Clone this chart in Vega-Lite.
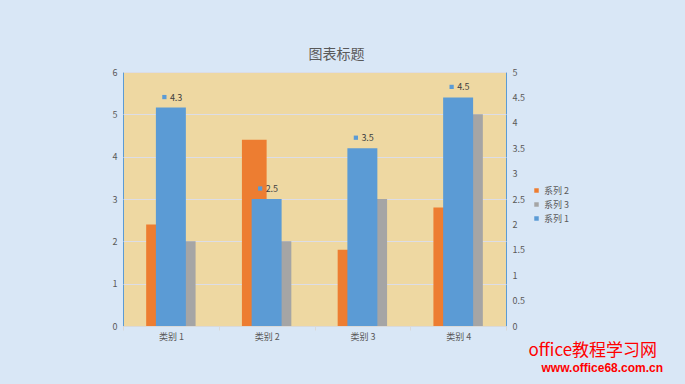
{
  "$schema": "https://vega.github.io/schema/vega-lite/v6.json",
  "autosize": {"type": "none"},
  "width": 383,
  "height": 254,
  "padding": {"left": 123, "top": 72, "right": 179, "bottom": 58},
  "background": "#d9e7f6",
  "title": {
    "text": "图表标题",
    "font": "Noto Sans CJK SC",
    "fontSize": 14,
    "fontWeight": "normal",
    "color": "#595959",
    "anchor": "middle",
    "frame": "group",
    "dx": 22,
    "offset": 6
  },
  "config": {
    "view": {"fill": "#eed8a2", "stroke": "#5b9bd5", "strokeWidth": 1},
    "font": "Noto Sans CJK SC",
    "axis": {"labelFont": "Noto Sans CJK SC", "labelFontSize": 9, "labelColor": "#595959"},
    "legend": {"labelFont": "Noto Sans CJK SC"}
  },
  "data": {
    "values": [
      {"cat": "类别 1", "series": "系列 2", "value": 2.4},
      {"cat": "类别 2", "series": "系列 2", "value": 4.4},
      {"cat": "类别 3", "series": "系列 2", "value": 1.8},
      {"cat": "类别 4", "series": "系列 2", "value": 2.8},
      {"cat": "类别 1", "series": "系列 3", "value": 2},
      {"cat": "类别 2", "series": "系列 3", "value": 2},
      {"cat": "类别 3", "series": "系列 3", "value": 3},
      {"cat": "类别 4", "series": "系列 3", "value": 5},
      {"cat": "类别 1", "series": "系列 1", "value": 4.3},
      {"cat": "类别 2", "series": "系列 1", "value": 2.5},
      {"cat": "类别 3", "series": "系列 1", "value": 3.5},
      {"cat": "类别 4", "series": "系列 1", "value": 4.5}
    ]
  },
  "layer": [
    {
      "transform": [{"filter": "datum.series !== '系列 1'"}],
      "mark": {"type": "bar"},
      "encoding": {
        "x": {
          "field": "cat", "type": "nominal",
          "scale": {"paddingInner": 0, "paddingOuter": 0},
          "axis": {
            "labelAngle": 0, "domainColor": "#d9d9d9", "tickColor": "#d9d9d9",
            "tickBand": "extent", "tickSize": 4, "labelPadding": 2,
            "title": "office教程学习网", "titleColor": "#ff0000", "titleFontSize": 17,
            "titleFontWeight": "normal", "titleFont": "Noto Sans CJK SC",
            "titleAlign": "left", "titleBaseline": "alphabetic",
            "titleX": 405, "titleY": 29
          }
        },
        "xOffset": {
          "field": "series", "type": "nominal",
          "scale": {"domain": ["系列 2", "系列 3"], "paddingInner": 0, "paddingOuter": 0.938}
        },
        "y": {
          "field": "value", "type": "quantitative",
          "scale": {"domain": [0, 6], "nice": false},
          "axis": {
            "values": [0, 1, 2, 3, 4, 5, 6], "domain": false, "ticks": false,
            "labelPadding": 6, "gridColor": "#dcdde6", "gridWidth": 1,
            "title": "www.office68.com.cn", "titleColor": "#ff0000", "titleFontSize": 12,
            "titleFontWeight": "bold", "titleFont": "Liberation Sans", "titleAngle": 0,
            "titleAlign": "left", "titleBaseline": "alphabetic",
            "titleX": 418, "titleY": 299
          }
        },
        "color": {
          "field": "series", "type": "nominal",
          "scale": {"domain": ["系列 2", "系列 3", "系列 1"], "range": ["#ed7d31", "#a5a5a5", "#5b9bd5"]},
          "legend": {
            "title": null, "orient": "none", "legendX": 409, "legendY": 114,
            "symbolType": "square", "symbolSize": 20, "labelFontSize": 9,
            "labelColor": "#595959", "rowPadding": 4, "labelOffset": 3
          }
        }
      }
    },
    {
      "transform": [{"filter": "datum.series === '系列 1'"}],
      "encoding": {
        "x": {"field": "cat", "type": "nominal"},
        "y": {
          "field": "value", "type": "quantitative",
          "scale": {"domain": [0, 5], "nice": false},
          "axis": {
            "orient": "right", "values": [0, 0.5, 1, 1.5, 2, 2.5, 3, 3.5, 4, 4.5, 5],
            "format": "~g", "domain": false, "ticks": false, "grid": false,
            "labelOverlap": false, "labelFlush": false,
            "labelPadding": 6, "title": null
          }
        }
      },
      "layer": [
        {
          "mark": {"type": "bar", "width": {"band": 0.313}},
          "encoding": {
            "color": {"field": "series", "type": "nominal"}
          }
        },
        {
          "mark": {"type": "point", "shape": "square", "filled": true, "size": 18, "opacity": 1, "color": "#5b9bd5", "xOffset": -6.5, "yOffset": -10.5}
        },
        {
          "mark": {"type": "text", "align": "left", "baseline": "middle", "dx": -1, "dy": -10, "fontSize": 9, "color": "#404040", "font": "Noto Sans CJK SC"},
          "encoding": {
            "text": {"field": "value", "type": "quantitative"}
          }
        }
      ]
    }
  ],
  "resolve": {"scale": {"y": "independent"}}
}
